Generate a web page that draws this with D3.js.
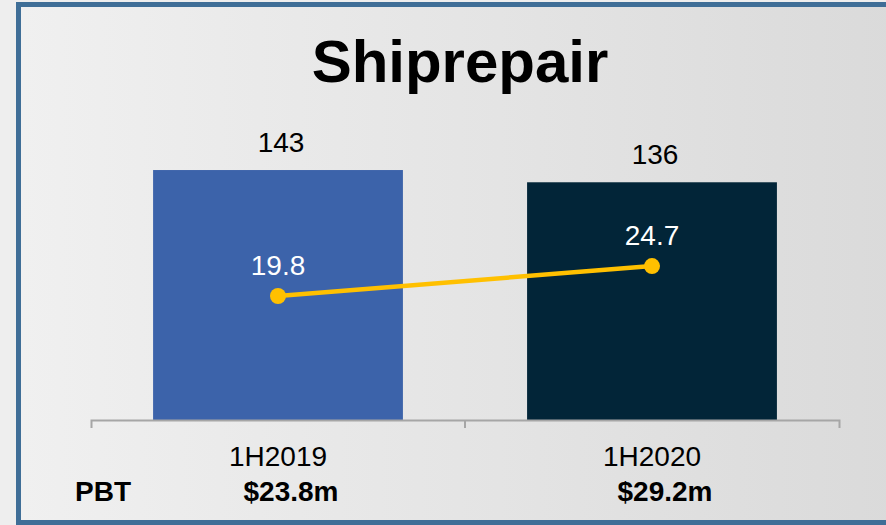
<!DOCTYPE html>
<html>
<head>
<meta charset="utf-8">
<script src="https://cdn.jsdelivr.net/npm/d3@7"></script>
<style>
  body { margin: 0; background: #eeeeee; }
  text { font-family: Arial, "Liberation Sans", sans-serif; }
</style>
</head>
<body>
<div id="chart"></div>
<script>
(function() {
  var width = 886;
  var height = 525;

  // data
  var categories = ["1H2019", "1H2020"];
  var revenue = [143, 136];
  var profit = [19.8, 24.7];
  var pbtLabels = ["$23.8m", "$29.2m"];
  var barColors = ["#3c63aa", "#022538"];

  var svg = d3.select("#chart")
    .append("svg")
    .attr("width", width)
    .attr("height", height);

  var defs = svg.append("defs");
  var grad = defs.append("linearGradient")
    .attr("id", "bg")
    .attr("x1", "0%").attr("x2", "100%")
    .attr("y1", "0%").attr("y2", "0%");
  grad.append("stop").attr("offset", "0%").attr("stop-color", "#f0f0f0");
  grad.append("stop").attr("offset", "100%").attr("stop-color", "#dadada");

  // panel with blue frame (right edge runs off the picture)
  svg.append("rect")
    .attr("x", 18.5)
    .attr("y", 4.5)
    .attr("width", 880)
    .attr("height", 518)
    .attr("fill", "url(#bg)")
    .attr("stroke", "#3f6e97")
    .attr("stroke-width", 5);

  var baseline = 420;

  var x = d3.scaleBand()
    .domain(categories)
    .range([91, 839])
    .padding(0);

  var barWidth = x.bandwidth() * 0.668;

  var y = d3.scaleLinear()
    .domain([0, 160])
    .range([baseline, baseline - 160 * 1.748]);

  var y2 = d3.scaleLinear()
    .domain([0, 45])
    .range([417, 142]);

  function cx(d, i) { return x(categories[i]) + x.bandwidth() / 2; }

  svg.append("text")
    .attr("x", 460)
    .attr("y", 82)
    .attr("text-anchor", "middle")
    .attr("font-size", 60)
    .attr("font-weight", "bold")
    .attr("fill", "#000")
    .text("Shiprepair");

  // bars
  svg.selectAll(".bar")
    .data(revenue)
    .enter().append("rect")
    .attr("class", "bar")
    .attr("x", function(d, i) { return cx(d, i) - barWidth / 2; })
    .attr("y", function(d) { return y(d); })
    .attr("width", barWidth)
    .attr("height", function(d) { return baseline - y(d); })
    .attr("fill", function(d, i) { return barColors[i]; });

  svg.selectAll(".bar-label")
    .data(revenue)
    .enter().append("text")
    .attr("class", "bar-label")
    .attr("x", function(d, i) { return cx(d, i) + 3; })
    .attr("y", function(d) { return y(d) - 18; })
    .attr("text-anchor", "middle")
    .attr("font-size", 28)
    .attr("fill", "#000")
    .text(function(d) { return d; });

  // axis
  var axis = d3.axisBottom(x)
    .tickValues([])
    .tickSizeOuter(8);

  var gx = svg.append("g")
    .attr("transform", "translate(0," + baseline + ")")
    .call(axis);
  gx.select(".domain")
    .attr("stroke", "#a6a6a6")
    .attr("stroke-width", 2);

  gx.append("line")
    .attr("x1", 465).attr("x2", 465)
    .attr("y1", 0).attr("y2", 8)
    .attr("stroke", "#a6a6a6")
    .attr("stroke-width", 2);

  svg.selectAll(".cat-label")
    .data(categories)
    .enter().append("text")
    .attr("class", "cat-label")
    .attr("x", function(d, i) { return cx(d, i); })
    .attr("y", 466)
    .attr("text-anchor", "middle")
    .attr("font-size", 28)
    .attr("fill", "#000")
    .text(function(d) { return d; });

  // profit line
  var line = d3.line()
    .x(function(d, i) { return cx(d, i); })
    .y(function(d) { return y2(d); });

  svg.append("path")
    .datum(profit)
    .attr("d", line)
    .attr("fill", "none")
    .attr("stroke", "#ffc000")
    .attr("stroke-width", 4.5);

  svg.selectAll(".dot")
    .data(profit)
    .enter().append("circle")
    .attr("class", "dot")
    .attr("cx", function(d, i) { return cx(d, i); })
    .attr("cy", function(d) { return y2(d); })
    .attr("r", 8)
    .attr("fill", "#ffc000");

  svg.selectAll(".dot-label")
    .data(profit)
    .enter().append("text")
    .attr("class", "dot-label")
    .attr("x", function(d, i) { return cx(d, i); })
    .attr("y", function(d) { return y2(d) - 21; })
    .attr("text-anchor", "middle")
    .attr("font-size", 28)
    .attr("fill", "#fff")
    .text(function(d) { return d.toFixed(1); });

  // PBT row
  svg.append("text")
    .attr("x", 75)
    .attr("y", 501)
    .attr("font-size", 28)
    .attr("font-weight", "bold")
    .attr("fill", "#000")
    .text("PBT");

  svg.selectAll(".pbt")
    .data(pbtLabels)
    .enter().append("text")
    .attr("class", "pbt")
    .attr("x", function(d, i) { return cx(d, i) + 13; })
    .attr("y", 501)
    .attr("text-anchor", "middle")
    .attr("font-size", 28)
    .attr("font-weight", "bold")
    .attr("fill", "#000")
    .text(function(d) { return d; });
})();
</script>
</body>
</html>
